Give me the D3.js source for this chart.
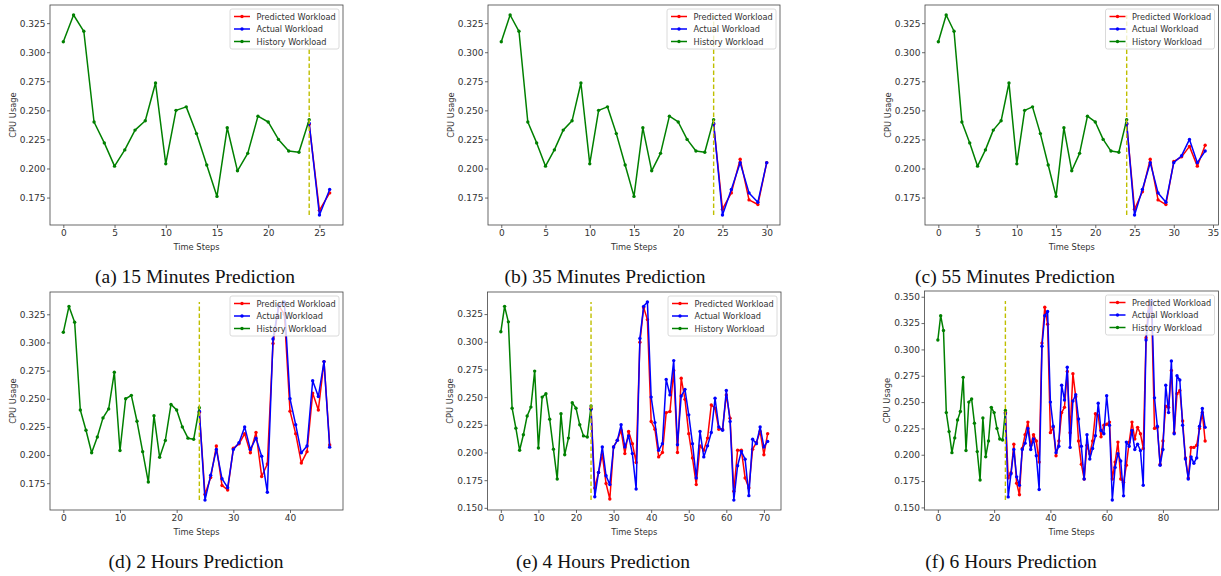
<!DOCTYPE html>
<html>
<head>
<meta charset="utf-8">
<script src="https://cdn.jsdelivr.net/npm/d3@7"></script>
<style>
  body { margin: 0; background: #fff; }
  svg { display: block; }
</style>
</head>
<body>
<svg id="chart" width="1221" height="576"></svg>
<script>
// history workload, steps 0..24
const history = [0.309, 0.332, 0.318, 0.240, 0.222, 0.202, 0.216, 0.233, 0.241, 0.2735,
  0.204, 0.250, 0.253, 0.230, 0.203, 0.176, 0.235, 0.198, 0.213, 0.245,
  0.240, 0.225, 0.215, 0.214, 0.242];

// actual workload, steps 24..95 (each panel uses the first part)
const actual = [0.239, 0.160, 0.182, 0.205, 0.179, 0.171, 0.205, 0.211, 0.225, 0.205,
  0.215, 0.199, 0.167, 0.303, 0.332, 0.336, 0.250, 0.227, 0.202, 0.208,
  0.266, 0.252, 0.283, 0.207, 0.251, 0.257, 0.234, 0.208, 0.177, 0.219,
  0.196, 0.206, 0.218, 0.249, 0.223, 0.220, 0.256, 0.228, 0.157, 0.188,
  0.201, 0.194, 0.161, 0.212, 0.208, 0.223, 0.205, 0.210, 0.204, 0.171,
  0.309, 0.336, 0.346, 0.254, 0.227, 0.190, 0.205, 0.266, 0.240, 0.289,
  0.220, 0.275, 0.271, 0.228, 0.196, 0.177, 0.198, 0.192, 0.197, 0.227,
  0.244, 0.226];

// predicted workload per horizon, all starting at step 24
const pred15m = [0.238, 0.164, 0.179];
const pred35m = [0.238, 0.165, 0.179, 0.208, 0.173, 0.169, 0.205];
const pred55m = [0.238, 0.165, 0.180, 0.208, 0.173, 0.169, 0.206, 0.210, 0.219, 0.202, 0.220];
const pred2h = [0.238, 0.165, 0.180, 0.208, 0.173, 0.169, 0.206, 0.210, 0.219, 0.202,
  0.220, 0.181, 0.192, 0.299, 0.333, 0.325, 0.239, 0.219, 0.193, 0.203,
  0.255, 0.240, 0.283, 0.209];
const pred4h = [0.240, 0.168, 0.182, 0.198, 0.172, 0.158, 0.205, 0.211, 0.220, 0.199,
  0.219, 0.208, 0.191, 0.2995, 0.331, 0.320, 0.228, 0.221, 0.196, 0.200,
  0.236, 0.237, 0.274, 0.200, 0.267, 0.248, 0.217, 0.195, 0.171, 0.206,
  0.202, 0.213, 0.243, 0.240, 0.221, 0.221, 0.252, 0.231, 0.165, 0.202,
  0.202, 0.177, 0.168, 0.203, 0.209, 0.219, 0.198, 0.217];
const pred6h = [0.240, 0.178, 0.183, 0.210, 0.173, 0.162, 0.206, 0.219, 0.231, 0.209,
  0.219, 0.213, 0.193, 0.306, 0.340, 0.324, 0.221, 0.226, 0.199, 0.213,
  0.240, 0.245, 0.279, 0.221, 0.277, 0.255, 0.213, 0.191, 0.177, 0.209,
  0.201, 0.213, 0.239, 0.237, 0.217, 0.228, 0.229, 0.231, 0.177, 0.193,
  0.212, 0.177, 0.174, 0.190, 0.212, 0.231, 0.215, 0.226, 0.220, 0.206,
  0.311, 0.345, 0.335, 0.225, 0.226, 0.191, 0.213, 0.246, 0.245, 0.280,
  0.221, 0.258, 0.261, 0.232, 0.197, 0.178, 0.207, 0.207, 0.209, 0.225,
  0.240, 0.213];

const captions = ['(a) 15 Minutes Prediction', '(b) 35 Minutes Prediction', '(c) 55 Minutes Prediction',
  '(d) 2 Hours Prediction', '(e) 4 Hours Prediction', '(f) 6 Hours Prediction'];
const predictions = [pred15m, pred35m, pred55m, pred2h, pred4h, pred6h];
const xTickStep = [5, 5, 5, 10, 10, 20];
const legendNames = ['Predicted Workload', 'Actual Workload', 'History Workload'];
const splitStep = 24;

// layout of the six subplots
const boxes = [
  { x0: 50, x1: 343, y0: 5, y1: 225, cx: 195, cy: 283 },
  { x0: 488, x1: 780, y0: 5, y1: 225, cx: 605, cy: 283 },
  { x0: 925, x1: 1218.5, y0: 5, y1: 225, cx: 1015, cy: 283 },
  { x0: 50, x1: 343, y0: 292, y1: 510, cx: 196, cy: 568 },
  { x0: 487.5, x1: 781, y0: 292, y1: 510, cx: 603, cy: 568 },
  { x0: 924.5, x1: 1218.5, y0: 291, y1: 510, cx: 1011, cy: 568 }
];
const colors = { pred: '#ff0000', actual: '#0000ff', history: '#008000', split: '#bfbf00' };
const font = "'DejaVu Sans', sans-serif";

const svg = d3.select('#chart');

predictions.forEach((pred, i) => {
  const b = boxes[i];
  const last = splitStep + pred.length - 1;
  const predPts = pred.map((v, k) => [splitStep + k, v]);
  const actPts = actual.slice(0, pred.length).map((v, k) => [splitStep + k, v]);
  const histPts = history.map((v, k) => [k, v]);

  // matplotlib style 5% margins
  const all = history.concat(pred, actual.slice(0, pred.length));
  const [lo, hi] = d3.extent(all);
  const padY = (hi - lo) * 0.05;
  const padX = last * 0.05;

  const x = d3.scaleLinear().domain([-padX, last + padX]).range([b.x0, b.x1]);
  const y = d3.scaleLinear().domain([lo - padY, hi + padY]).range([b.y1, b.y0]);

  const g = svg.append('g');

  const yTicks = d3.range(Math.ceil((lo - padY) / 0.025) * 0.025, hi + padY, 0.025);
  const xTicks = d3.range(0, last + padX + 1e-9, xTickStep[i]);

  const yAxis = g.append('g')
    .attr('transform', 'translate(' + b.x0 + ',0)')
    .call(d3.axisLeft(y).tickValues(yTicks).tickFormat(d3.format('.3f')).tickSize(3).tickPadding(1.5));
  const xAxis = g.append('g')
    .attr('transform', 'translate(0,' + b.y1 + ')')
    .call(d3.axisBottom(x).tickValues(xTicks).tickFormat(d3.format('d')).tickSize(3).tickPadding(2));
  [yAxis, xAxis].forEach(a => {
    a.select('.domain').remove();
    a.selectAll('line').attr('stroke', '#444').attr('stroke-width', 0.8);
    a.selectAll('text').attr('font-family', font).attr('font-size', 9).attr('fill', '#333');
  });

  const line = d3.line().x(d => x(d[0])).y(d => y(d[1]));
  const drawSeries = (pts, color) => {
    g.append('path').datum(pts)
      .attr('d', line).attr('fill', 'none')
      .attr('stroke', color).attr('stroke-width', 1.5).attr('stroke-linejoin', 'round');
    g.selectAll(null).data(pts).enter().append('circle')
      .attr('cx', d => x(d[0])).attr('cy', d => y(d[1]))
      .attr('r', 1.7).attr('fill', color);
  };
  drawSeries(predPts, colors.pred);
  drawSeries(actPts, colors.actual);
  drawSeries(histPts, colors.history);

  // split marker between history and forecast
  g.append('line')
    .attr('x1', x(splitStep)).attr('x2', x(splitStep))
    .attr('y1', y(lo)).attr('y2', y(hi))
    .attr('stroke', colors.split).attr('stroke-width', 1.4)
    .attr('stroke-dasharray', '4.5,2.5');

  // frame
  g.append('rect')
    .attr('x', b.x0).attr('y', b.y0)
    .attr('width', b.x1 - b.x0).attr('height', b.y1 - b.y0)
    .attr('fill', 'none').attr('stroke', '#444').attr('stroke-width', 0.8);

  // legend
  const lw = 109, lh = 40;
  const lx = b.x1 - 4 - lw, ly = b.y0 + 4;
  const leg = g.append('g').attr('transform', 'translate(' + lx + ',' + ly + ')');
  leg.append('rect').attr('width', lw).attr('height', lh).attr('rx', 2)
    .attr('fill', '#fff').attr('fill-opacity', 0.8)
    .attr('stroke', '#d0d0d0').attr('stroke-width', 0.8);
  [colors.pred, colors.actual, colors.history].forEach((c, k) => {
    const ry = 7.5 + k * 12.5;
    leg.append('line').attr('x1', 4).attr('x2', 20).attr('y1', ry).attr('y2', ry)
      .attr('stroke', c).attr('stroke-width', 1.5);
    leg.append('circle').attr('cx', 12).attr('cy', ry).attr('r', 1.7).attr('fill', c);
    leg.append('text').attr('x', 26.5).attr('y', ry + 3)
      .attr('font-family', font).attr('font-size', 8.2).attr('fill', '#333')
      .text(legendNames[k]);
  });

  // axis titles
  g.append('text')
    .attr('x', (b.x0 + b.x1) / 2).attr('y', b.y1 + 25)
    .attr('text-anchor', 'middle').attr('font-family', font).attr('font-size', 8.3).attr('fill', '#333')
    .text('Time Steps');
  g.append('text')
    .attr('transform', 'translate(' + (b.x0 - 34.5) + ',' + ((b.y0 + b.y1) / 2) + ') rotate(-90)')
    .attr('text-anchor', 'middle').attr('font-family', font).attr('font-size', 8.3).attr('fill', '#333')
    .text('CPU Usage');

  // subfigure caption
  svg.append('text')
    .attr('x', b.cx).attr('y', b.cy)
    .attr('text-anchor', 'middle')
    .attr('font-family', "'Liberation Serif', 'Times New Roman', serif")
    .attr('font-size', 19.5).attr('fill', '#111')
    .text(captions[i]);
});
</script>
</body>
</html>
